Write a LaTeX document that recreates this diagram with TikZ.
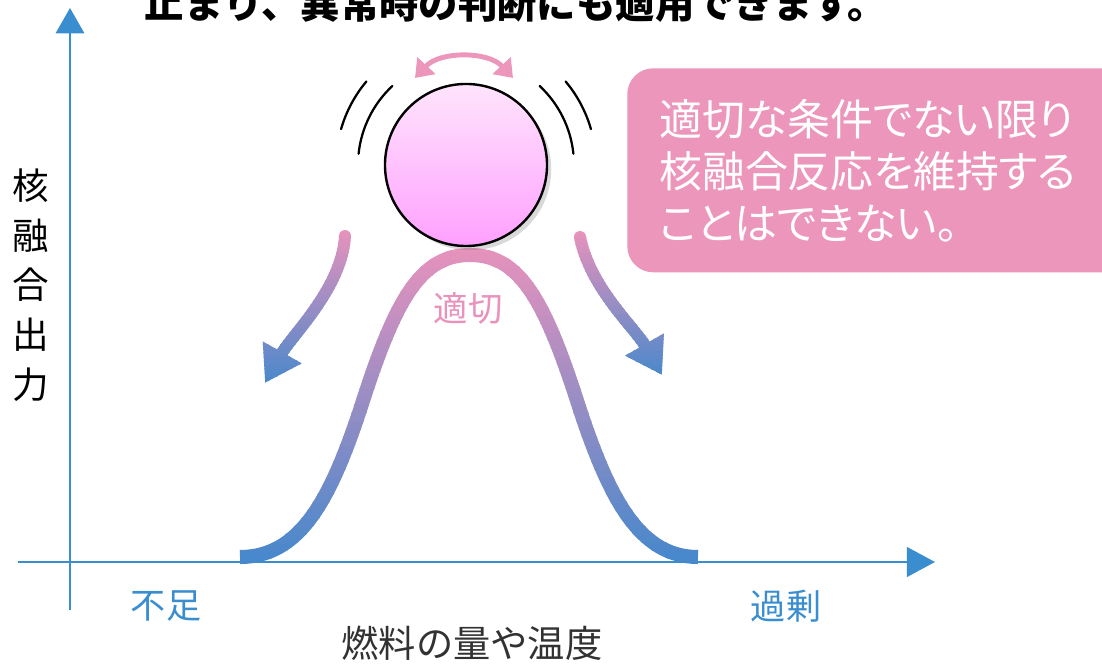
\documentclass[tikz,border=0pt]{standalone}
\usepackage{fontspec}
\setmainfont{Noto Sans CJK JP}
\newfontfamily\propfont[RawFeature=+palt]{Noto Sans CJK JP}
\usepackage{tikz}
\usetikzlibrary{arrows.meta,shadows,positioning}

\definecolor{axisblue}{RGB}{58,142,208}
\definecolor{curvepink}{RGB}{232,146,188}
\definecolor{curveblue}{RGB}{70,136,204}
\definecolor{boxpink}{RGB}{236,150,188}
\definecolor{ballhi}{RGB}{255,228,252}
\definecolor{balllo}{RGB}{255,160,255}
\definecolor{labelgray}{RGB}{50,50,50}

% stroke a path in horizontal bands, blue at the bottom, pink at the top
\newcommand{\fadedraw}[4]{%
  \foreach \i in {0,...,39}{
    \pgfmathsetmacro\lo{#3+\i*(#4-#3)/40}
    \pgfmathsetmacro\hi{\lo+(#4-#3)/40+0.6}
    \pgfmathtruncatemacro\p{\i*100/39}
    \begin{scope}
      \clip (0,\lo) rectangle (1102,\hi);
      \draw[#1,curvepink!\p!curveblue] #2;
    \end{scope}
  }}

\begin{document}
\begin{tikzpicture}[x=0.025cm,y=0.025cm,line join=round,
  axis/.style={draw=axisblue,line width=2.1pt},
  bell/.style={line width=10pt,line cap=butt},
  fall/.style={line width=8.5pt,line cap=round,-{Triangle[length=25pt,width=30pt]}},
  wave/.style={black,line width=1.6pt,line cap=round},
  swing/.style={draw=boxpink,line width=3.5pt,{Triangle[length=12pt,width=17pt]}-{Triangle[length=12pt,width=17pt]}},
  ball/.style={circle,draw=black,line width=1.7pt,minimum size=4.05cm,inner sep=0pt,
    top color=ballhi,bottom color=balllo,
    drop shadow={shadow xshift=3pt,shadow yshift=-3pt,opacity=.3}},
  infobox/.style={fill=boxpink,rounded corners=0.65cm,anchor=north west,
    minimum width=12.8cm,minimum height=5.1cm,inner xsep=0.75cm,
    text width=11.2cm,align=left,text=white,
    font=\propfont\fontsize{30.5}{37}\selectfont},
  axislabel/.style={text=axisblue,font=\fontsize{25}{30}\selectfont}]
\useasboundingbox (0,0) rectangle (1102,663);

% axes
\coordinate (xstart) at (18,101);
\coordinate (xend) at (935,101);
\coordinate (ystart) at (70,53);
\coordinate (yend) at (70,655);
\draw[axis,-{Triangle[length=20pt,width=21pt]}] (xstart) -- (xend);
\draw[axis,-{Triangle[length=18pt,width=20pt]}] (ystart) -- (yend);

\node[align=center,font=\fontsize{26}{35.4}\selectfont] (ylab) at (31,378) {核\\融\\合\\出\\力};
\node[axislabel] (low) at (166,57) {不足};
\node[axislabel] (high) at (786,57) {過剰};
\node[text=labelgray,font=\fontsize{26.5}{30}\selectfont] (xlab) at (472,20) {燃料の量や温度};

% output curve
\def\bellpath{(240,106) .. controls (300,106) and (330,163) .. (360,253)
  .. controls (395,363) and (420,408) .. (470,408)
  .. controls (520,408) and (545,363) .. (580,253)
  .. controls (610,163) and (640,106) .. (698,106)}
\fadedraw{bell}{\bellpath}{96}{420}
\node[text=curvepink,font=\fontsize{24.5}{28}\selectfont] (opt) at (468,355) {適切};

% falling off on both sides
\fadedraw{fall}{(345,427) .. controls (342,375) and (292,328) .. (265,280)}{274}{434}
\fadedraw{fall}{(580,426) .. controls (590,375) and (635,335) .. (662,288)}{282}{433}

% the ball on top
\node[ball] (ball) at (466,498) {};
\draw[wave] ([shift={(140:130)}]ball.center) arc[start angle=140,end angle=164,radius=130];
\draw[wave] ([shift={(133:108)}]ball.center) arc[start angle=133,end angle=174,radius=108];
\draw[wave] ([shift={(47:108)}]ball.center) arc[start angle=47,end angle=6,radius=108];
\draw[wave] ([shift={(40:130)}]ball.center) arc[start angle=40,end angle=16,radius=130];
\coordinate (swl) at (415,585);
\coordinate (swr) at (513,585);
\draw[swing] (swl) .. controls (440,612) and (488,612) .. (swr);

\node[infobox] (msg) at (627,595) {適切な条件でない限り\\核融合反応を維持する\\ことはできない。};

\node[anchor=base,font=\bfseries\fontsize{28}{32}\selectfont] (note) at (516,644) {止まり、異常時の判断にも適用できます。};
\end{tikzpicture}
\end{document}
